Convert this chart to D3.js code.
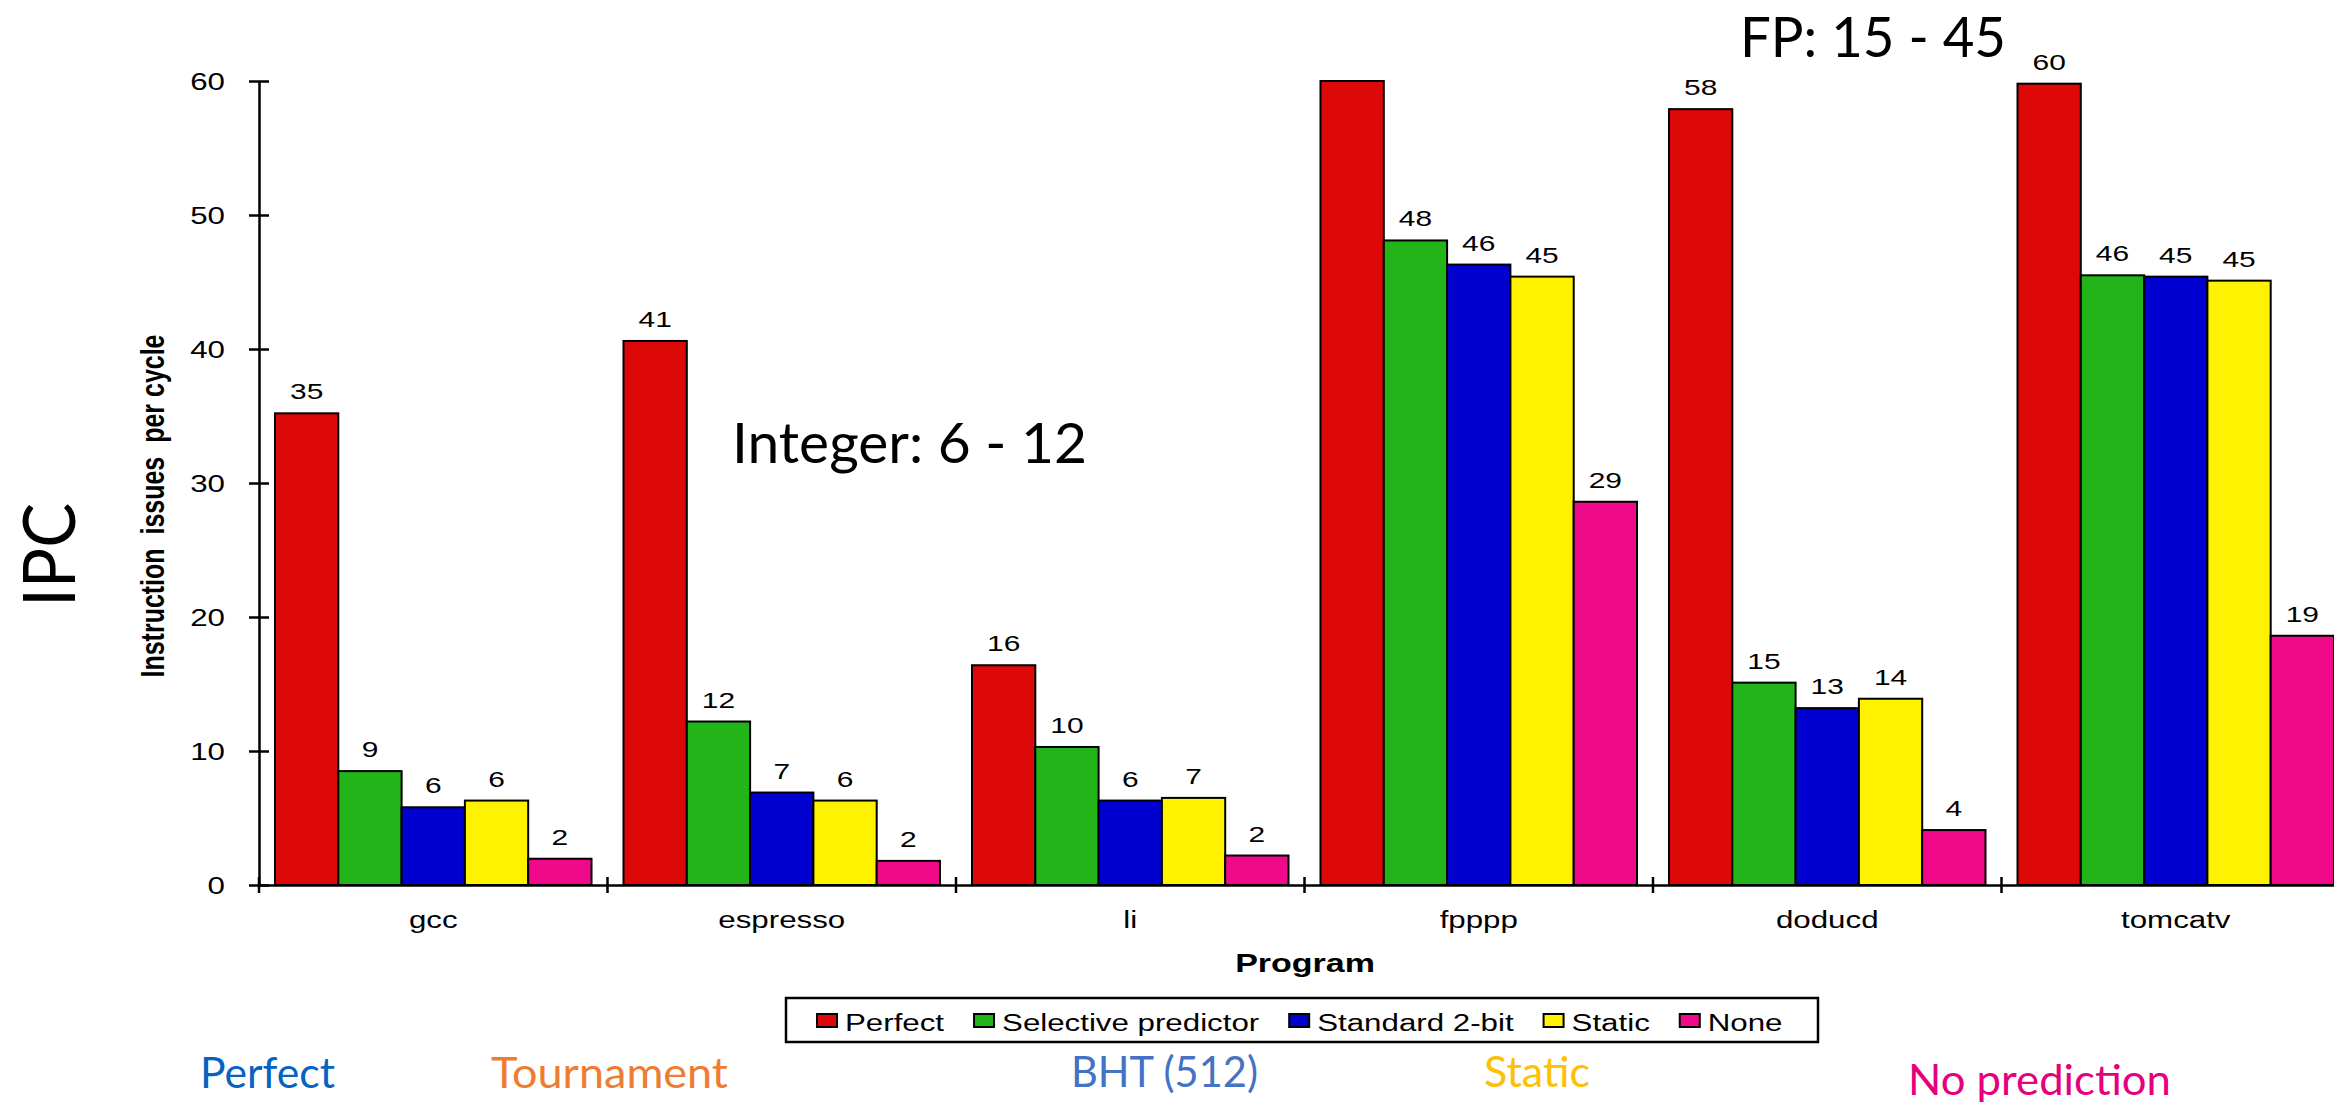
<!DOCTYPE html>
<html><head><meta charset="utf-8">
<script src="https://cdn.jsdelivr.net/npm/d3@7"></script>
<style>body{margin:0;background:#fff}svg{display:block}</style>
</head><body>
<svg id="c" width="2334" height="1104"></svg>
<script>
// ---------- data ----------
const categories = ["gcc", "espresso", "li", "fpppp", "doducd", "tomcatv"];
const seriesNames = ["Perfect", "Selective predictor", "Standard 2-bit", "Static", "None"];
const seriesColors = ["#DD0808", "#22B418", "#0000D0", "#FFF200", "#F00A8A"];
const perfect      = [35.2, 40.6, 16.4, 75.0, 57.9, 59.8];
const selective    = [8.5, 12.2, 10.3, 48.1, 15.1, 45.5];
const standard2bit = [5.8, 6.9, 6.3, 46.3, 13.2, 45.4];
const staticPred   = [6.3, 6.3, 6.5, 45.4, 13.9, 45.1];
const none         = [1.96, 1.8, 2.2, 28.6, 4.1, 18.6];
const yTicks = [0, 10, 20, 30, 40, 50, 60];
const yTitle = "Instruction  issues  per cycle";
const xTitle = "Program";
const sideLabel = "IPC";
const noteInteger = "Integer: 6 - 12";
const noteFP = "FP: 15 - 45";
const bottomLabels = ["Perfect", "Tournament", "BHT (512)", "Static", "No prediction"];
const bottomColors = ["#0563C1", "#ED7D31", "#4472C4", "#FFC000", "#E6007E"];

const seriesValues = [perfect, selective, standard2bit, staticPred, none];

// ---------- layout ----------
const svg = d3.select("#c");
svg.append("rect").attr("width", 2334).attr("height", 1104).attr("fill", "#fff");
const SX = 1.36; // horizontal stretch of the chart's text
const ARIAL = "'Liberation Sans', Arial, sans-serif";
const CAL = "Lato, 'Open Sans', sans-serif";
const X0 = 259, BAND = 348.5, Y0 = 885, YTOP = 81;

const x0 = d3.scaleBand().domain(categories).range([X0, X0 + BAND * categories.length]).padding(0);
const x1 = d3.scaleBand().domain(seriesNames).range([16, x0.bandwidth() - 16]).padding(0);
const y = d3.scaleLinear().domain([0, 60]).range([Y0, YTOP]).clamp(true);
const color = d3.scaleOrdinal().domain(seriesNames).range(seriesColors);

const rows = categories.map((c, i) => ({
  cat: c,
  vals: seriesNames.map((s, j) => ({ s, v: seriesValues[j][i] }))
}));

// bars
const grp = svg.append("g").selectAll("g").data(rows).join("g")
  .attr("transform", d => `translate(${x0(d.cat)},0)`);
grp.selectAll("rect").data(d => d.vals).join("rect")
  .attr("x", d => x1(d.s))
  .attr("y", d => y(d.v))
  .attr("width", x1.bandwidth())
  .attr("height", d => Y0 - y(d.v))
  .attr("fill", d => color(d.s))
  .attr("stroke", "#000").attr("stroke-width", 2);

// value labels (only for values inside the axis range)
grp.selectAll("text").data(d => d.vals.filter(v => v.v <= 60)).join("text")
  .attr("transform", d => `translate(${x1(d.s) + x1.bandwidth() / 2},${y(d.v) - 14}) scale(${SX},1)`)
  .attr("text-anchor", "middle")
  .attr("font-family", ARIAL).attr("font-size", 22).attr("fill", "#000")
  .text(d => Math.round(d.v));

// y axis
const ya = svg.append("g").attr("transform", `translate(${X0},0)`)
  .call(d3.axisLeft(y).tickValues(yTicks).tickSize(10).tickSizeOuter(0).tickFormat(d3.format("d")));
ya.select(".domain").attr("stroke", "#000").attr("stroke-width", 2.5);
ya.selectAll(".tick line").attr("x1", 10).attr("stroke", "#000").attr("stroke-width", 2.5);
ya.selectAll(".tick text")
  .attr("x", 0).attr("dy", null)
  .attr("transform", `translate(-34,8) scale(${SX},1)`)
  .attr("font-family", ARIAL).attr("font-size", 23).attr("fill", "#000");

// x axis
const xa = svg.append("g").attr("transform", `translate(0,${Y0})`)
  .call(d3.axisBottom(x0).tickSize(0).tickSizeOuter(0));
xa.select(".domain").attr("stroke", "#000").attr("stroke-width", 2.5);
xa.selectAll(".tick text")
  .attr("y", 0).attr("dy", null)
  .attr("transform", `translate(0,43) scale(${SX},1)`)
  .attr("font-family", ARIAL).attr("font-size", 23).attr("fill", "#000");
const seps = categories.map(c => x0(c)).concat([x0.range()[1]]);
svg.append("g").selectAll("line").data(seps).join("line")
  .attr("x1", d => d).attr("x2", d => d)
  .attr("y1", Y0 - 8).attr("y2", Y0 + 8)
  .attr("stroke", "#000").attr("stroke-width", 2.5);

// axis titles
svg.append("text")
  .attr("transform", `translate(164,506) scale(${SX},1) rotate(-90)`)
  .attr("text-anchor", "middle").style("white-space", "pre")
  .attr("font-family", ARIAL).attr("font-weight", "bold").attr("font-size", 25)
  .text(yTitle);
svg.append("text")
  .attr("transform", `translate(1305,972) scale(${SX},1)`)
  .attr("text-anchor", "middle")
  .attr("font-family", ARIAL).attr("font-weight", "bold").attr("font-size", 25)
  .text(xTitle);

// legend
const lg = svg.append("g");
lg.append("rect").attr("x", 786).attr("y", 998).attr("width", 1032).attr("height", 44)
  .attr("fill", "#fff").attr("stroke", "#000").attr("stroke-width", 2.5);
let lx = 817;
seriesNames.forEach(s => {
  lg.append("rect").attr("x", lx).attr("y", 1014).attr("width", 20).attr("height", 13)
    .attr("fill", color(s)).attr("stroke", "#000").attr("stroke-width", 2);
  const t = lg.append("text")
    .attr("transform", `translate(${lx + 28},1031) scale(${SX},1)`)
    .attr("font-family", ARIAL).attr("font-size", 23).attr("fill", "#000")
    .text(s);
  lx = lx + 28 + t.node().getComputedTextLength() * SX + 30;
});

// side label
svg.append("text")
  .attr("transform", "translate(75,555) rotate(-90)")
  .attr("text-anchor", "middle")
  .attr("font-family", CAL).attr("font-size", 72)
  .attr("textLength", 104).attr("lengthAdjust", "spacingAndGlyphs")
  .text(sideLabel);

// notes
svg.append("text").attr("x", 732).attr("y", 463)
  .attr("font-family", CAL).attr("font-size", 56)
  .attr("textLength", 355).attr("lengthAdjust", "spacingAndGlyphs")
  .text(noteInteger);
svg.append("text").attr("x", 1740).attr("y", 57)
  .attr("font-family", CAL).attr("font-size", 56)
  .attr("textLength", 266).attr("lengthAdjust", "spacingAndGlyphs")
  .text(noteFP);

// bottom labels
const bottomLayout = [[200, 1088, 135], [491, 1088, 237], [1071, 1087, 187], [1484, 1087, 106], [1908, 1095, 263]];
svg.append("g").selectAll("text").data(bottomLabels).join("text")
  .attr("x", (d, i) => bottomLayout[i][0])
  .attr("y", (d, i) => bottomLayout[i][1])
  .attr("textLength", (d, i) => bottomLayout[i][2])
  .attr("lengthAdjust", "spacingAndGlyphs")
  .attr("font-family", CAL).attr("font-size", 42)
  .attr("fill", (d, i) => bottomColors[i])
  .text(d => d);
</script>
</body></html>
